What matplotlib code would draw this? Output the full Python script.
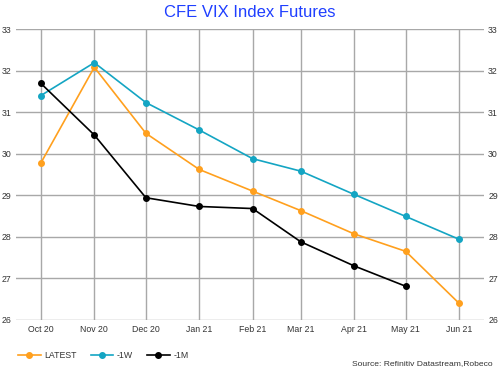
import matplotlib
matplotlib.use("Agg")
import matplotlib.pyplot as plt
import pandas as pd

plt.rcParams['font.family'] = ['Liberation Sans', 'DejaVu Sans']

months = ["2020-10-01", "2020-11-01", "2020-12-01", "2021-01-01", "2021-02-01",
          "2021-03-01", "2021-04-01", "2021-05-01", "2021-06-01"]
tick_labels = ["Oct 20", "Nov 20", "Dec 20", "Jan 21", "Feb 21", "Mar 21", "Apr 21", "May 21", "Jun 21"]
latest = [29.78, 32.08, 30.49, 29.62, 29.10, 28.63, 28.07, 27.65, 26.40]
week1 = [31.40, 32.19, 31.23, 30.57, 29.88, 29.58, 29.02, 28.49, 27.94]
month1 = [31.69, 30.45, 28.94, 28.73, 28.68, 27.88, 27.30, 26.81]

dates = pd.to_datetime(months)

fig = plt.figure(figsize=(5.0, 3.72), dpi=100)
ax = fig.add_axes([0.032, 0.140, 0.936, 0.782])

orange = "#FFA01E"
teal = "#14A5C3"
ax.plot(dates, latest, color=orange, lw=1.2, marker="o", ms=4, label="LATEST", zorder=3)
ax.plot(dates, week1, color=teal, lw=1.2, marker="o", ms=4, label="-1W", zorder=3)
ax.plot(dates[:len(month1)], month1, color="black", lw=1.2, marker="o", ms=4, label="-1M", zorder=3)

ax.set_ylim(26, 33)
ax.set_yticks(range(26, 34))
ax.set_xlim(dates[0] - pd.Timedelta(days=14.5), dates[-1] + pd.Timedelta(days=14.5))
ax.set_xticks(dates)
ax.set_xticklabels(tick_labels)

ax.grid(True, color="#a8a8a8", lw=1.0)
ax.set_axisbelow(True)
for s in ax.spines.values():
    s.set_visible(False)
ax.tick_params(axis="both", length=0, labelsize=6.3, colors="#333333")
ax.tick_params(axis="x", pad=4)
ax.tick_params(axis="y", labelleft=True, labelright=True, pad=3)

fig.text(0.5, 0.966, "CFE VIX Index Futures", ha="center", va="center",
         fontsize=12, color="#1F3FFF")

leg = fig.legend(loc="lower left", bbox_to_anchor=(0.02, 0.01), ncol=3, frameon=False,
                 fontsize=6.3, handlelength=2.6, columnspacing=1.6, handletextpad=0.4)
for t in leg.get_texts():
    t.set_color("#333333")

fig.text(0.986, 0.012, "Source: Refinitiv Datastream,Robeco", ha="right", va="bottom",
         fontsize=6.1, color="#333333")

fig.savefig("out.png", dpi=100)
